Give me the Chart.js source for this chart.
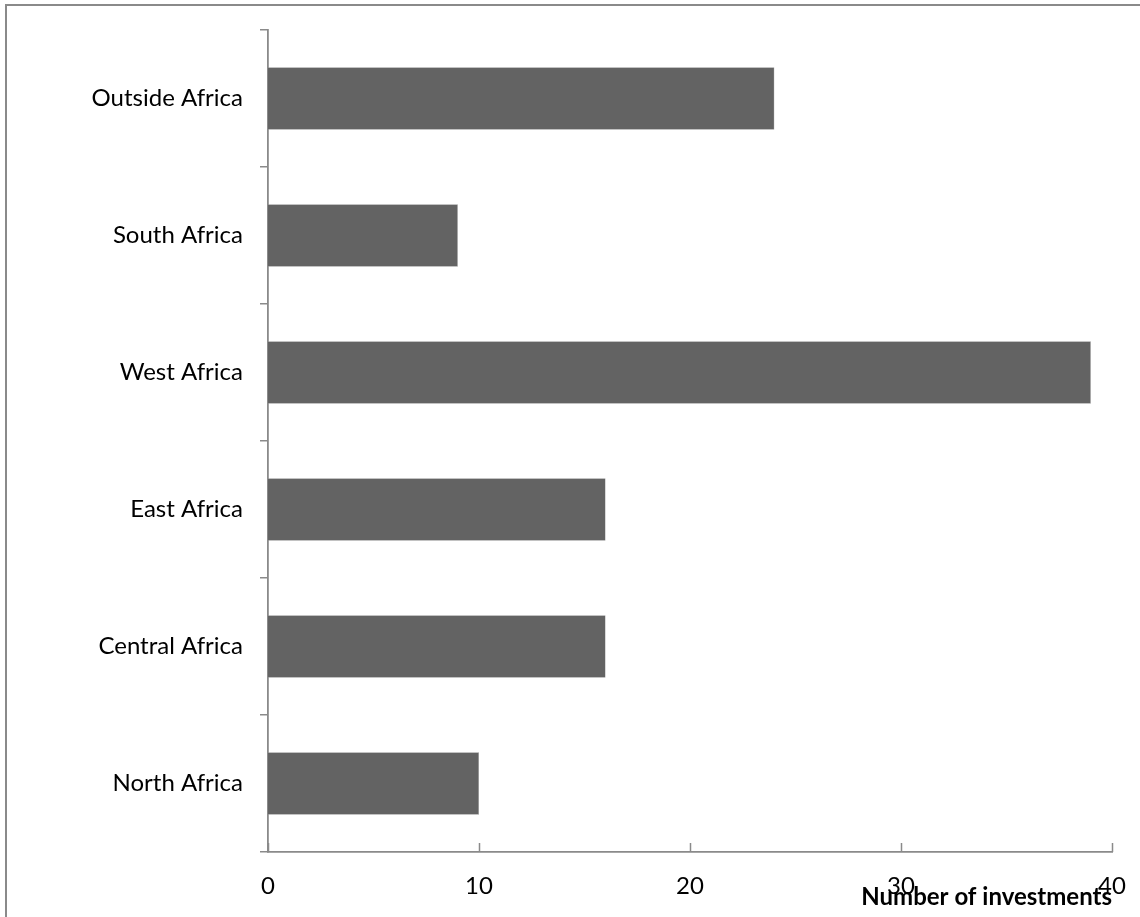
<!DOCTYPE html>
<html lang="en">
<head>
  <meta charset="UTF-8">
  <title>Number of investments by region</title>
  <style>
    * { margin: 0; padding: 0; box-sizing: border-box; }
    body { width: 1140px; height: 917px; background: #fff; overflow: hidden; position: relative; }
    .frame {
      position: absolute; left: 5px; top: 4px; width: 1200px; height: 1000px;
      border-left: 2px solid #8a8a8a; border-top: 2px solid #8a8a8a;
    }
    .chart-box { position: absolute; left: 0; top: 0; width: 1140px; height: 917px; }
  </style>
</head>
<body>
  <div class="frame"></div>
  <div class="chart-box"><canvas id="chart"></canvas></div>

  <script src="https://cdn.jsdelivr.net/npm/chart.js@4.4.1/dist/chart.umd.min.js"></script>
  <script>
    // regions, top to bottom as in the picture
    const regions = ['Outside Africa', 'South Africa', 'West Africa', 'East Africa', 'Central Africa', 'North Africa'];
    const investments = [24, 9, 39, 16, 16, 10];
    const xTicks = [0, 10, 20, 30, 40];

    const axisColor = '#8a8a8a';
    const fontFamily = 'Lato, "Open Sans", sans-serif';

    // small inward tick marks on the x axis
    const innerTicks = {
      id: 'innerTicks',
      afterDraw(chart) {
        const {ctx, chartArea, scales} = chart;
        ctx.save();
        ctx.strokeStyle = axisColor;
        ctx.lineWidth = 1.5;
        xTicks.forEach(v => {
          const px = Math.round(scales.x.getPixelForValue(v)) + 0.5;
          ctx.beginPath();
          ctx.moveTo(px, chartArea.bottom);
          ctx.lineTo(px, chartArea.bottom - 9);
          ctx.stroke();
        });
        ctx.restore();
      }
    };

    new Chart(document.getElementById('chart'), {
      type: 'bar',
      data: {
        labels: regions,
        datasets: [{
          label: 'Number of investments',
          data: investments,
          backgroundColor: '#636363',
          borderColor: '#9a9a9a',
          borderWidth: 0.5,
          categoryPercentage: 1,
          barPercentage: 0.455
        }]
      },
      options: {
        indexAxis: 'y',
        responsive: true,
        maintainAspectRatio: false,
        animation: false,
        layout: { padding: { top: 30, right: 28, bottom: 0, left: 0 } },
        plugins: { legend: { display: false }, tooltip: { enabled: false } },
        scales: {
          x: {
            min: 0,
            max: 40,
            afterFit: s => { s.height = 65; s.paddingLeft = 0; s.paddingRight = 0; },
            afterBuildTicks: s => { s.ticks = xTicks.map(v => ({ value: v })); },
            grid: { display: false, drawTicks: false },
            border: { display: true, color: axisColor, width: 1.8 },
            ticks: { color: '#000', padding: 20, font: { family: fontFamily, size: 24 } },
            title: {
              display: true,
              text: 'Number of investments',
              align: 'end',
              color: '#000',
              padding: { top: 0, bottom: 5 },
              font: { family: fontFamily, size: 24, weight: 'bold' }
            }
          },
          y: {
            afterFit: s => { s.width = 268; s.paddingTop = 0; s.paddingBottom = 0; },
            grid: { drawOnChartArea: false, offset: true, tickLength: 8, color: axisColor, lineWidth: 1.5 },
            border: { display: true, color: axisColor, width: 1.8 },
            ticks: { color: '#000', padding: 17, font: { family: fontFamily, size: 24 } }
          }
        }
      },
      plugins: [innerTicks]
    });
  </script>
</body>
</html>
